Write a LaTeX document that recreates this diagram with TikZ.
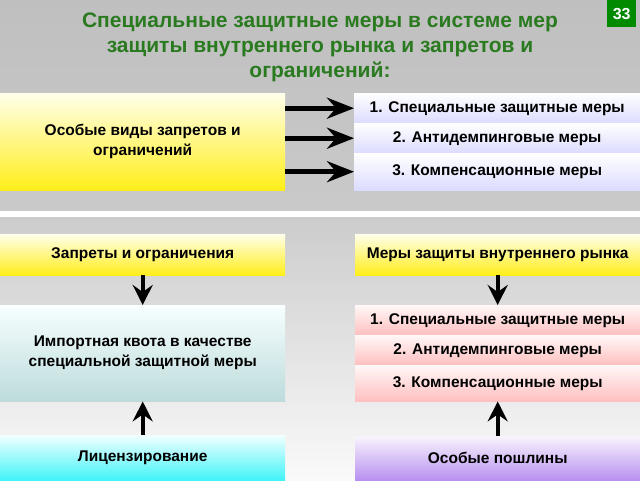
\documentclass[tikz,border=0pt]{standalone}
\usepackage{fontspec}
\setmainfont{Liberation Sans}
\usetikzlibrary{arrows.meta}
\definecolor{titlegreen}{HTML}{2A7A20}
\definecolor{numgreen}{HTML}{008A00}
\definecolor{violetb}{HTML}{B890F0}
\definecolor{cyanb}{HTML}{40F4F8}
\tikzset{
  box/.style={anchor=north west, inner sep=0pt, align=center, font=\fontsize{15.5}{20}\selectfont\bfseries, text=black},
  yellowbox/.style={box, top color=yellow!8, bottom color=yellow!85!orange!90!white},
  lavbox/.style={box, top color=white, bottom color=blue!14!white},
  tealbox/.style={box, top color=cyan!3!white, bottom color=cyan!30!gray!40!white},
  cyanbox/.style={box, top color=cyan!5!white, bottom color=cyanb},
  pinkbox/.style={box, top color=red!3!white, bottom color=red!25!white},
  purplebox/.style={box, top color=violetb!10!white, bottom color=violetb},
  harrow/.style={line width=5pt, -{Stealth[length=27pt,width=21pt,inset=9pt]}},
  varrow/.style={line width=4pt, -{Stealth[length=20pt,width=20pt,inset=7pt]}},
}
\begin{document}
\begin{tikzpicture}[x=1pt,y=-1pt]
\useasboundingbox (0,0) rectangle (640,480);
% background
\shade[top color=black!25, bottom color=black!21] (0,0) rectangle (640,211);
\fill[white] (0,211) rectangle (640,217);
\shade[top color=black!20, bottom color=black!2] (0,217) rectangle (640,480);
% number
\node[fill=numgreen, text=white, font=\fontsize{16}{16}\selectfont\bfseries, minimum width=29pt, minimum height=27pt, inner sep=0pt, anchor=north west] (num) at (607,0) {33};
% title
\node[text=titlegreen, font=\fontsize{21}{25}\selectfont\bfseries, align=center, inner sep=0pt] (title) at (320,47) {Специальные защитные меры в системе мер\\защиты внутреннего рынка и запретов и\\ограничений:};
% top section
\node[yellowbox, minimum width=285pt, minimum height=97pt] (spec) at (0,93) {Особые виды запретов и\\ограничений};
\node[lavbox, minimum width=286pt, minimum height=30pt] (m1) at (354,93) {1. Специальные защитные меры};
\node[lavbox, minimum width=286pt, minimum height=30pt] (m2) at (354,123) {2. Антидемпинговые меры};
\node[lavbox, minimum width=286pt, minimum height=37pt] (m3) at (354,153) {3. Компенсационные меры};
\draw[harrow] (spec.east |- m1.west) -- (m1.west);
\draw[harrow] (spec.east |- m2.west) -- (m2.west);
\draw[harrow] (spec.east |- m3.west) -- (m3.west);
% bottom section
\node[yellowbox, minimum width=285pt, minimum height=41pt] (ban) at (0,234) {Запреты и ограничения};
\node[yellowbox, minimum width=285pt, minimum height=41pt] (prot) at (355,234) {Меры защиты внутреннего рынка};
\node[tealbox, minimum width=285pt, minimum height=96pt] (quota) at (0,305) {Импортная квота в качестве\\специальной защитной меры};
\node[pinkbox, minimum width=285pt, minimum height=30pt] (p1) at (355,305) {1. Специальные защитные меры};
\node[pinkbox, minimum width=285pt, minimum height=30pt] (p2) at (355,335) {2. Антидемпинговые меры};
\node[pinkbox, minimum width=285pt, minimum height=36pt] (p3) at (355,365) {3. Компенсационные меры};
\node[cyanbox, minimum width=285pt, minimum height=45pt] (lic) at (0,435) {Лицензирование};
\node[purplebox, minimum width=285pt, minimum height=44pt] (duty) at (355,436) {Особые пошлины};
\draw[varrow] (ban.south) -- (quota.north);
\draw[varrow] (lic.north) -- (quota.south);
\draw[varrow] (prot.south) -- (p1.north);
\draw[varrow] (duty.north) -- (p3.south);
\end{tikzpicture}
\end{document}
